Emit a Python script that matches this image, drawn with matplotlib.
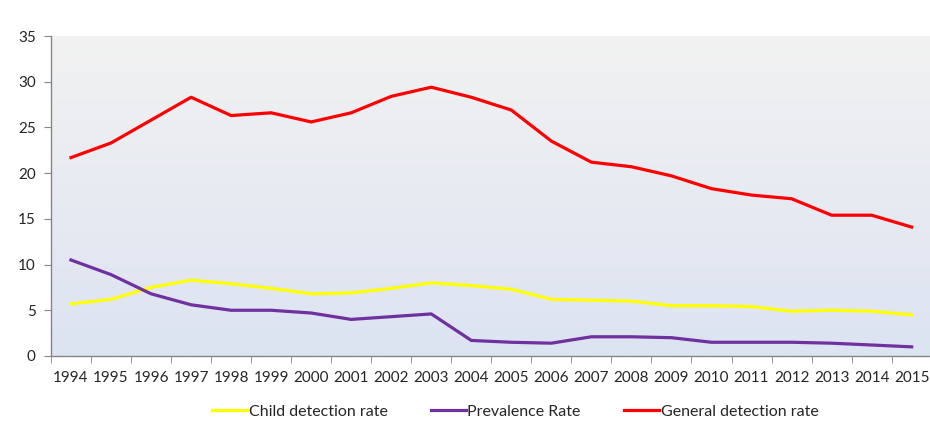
import numpy as np
import matplotlib
matplotlib.use('Agg')
import matplotlib.pyplot as plt
from matplotlib.ticker import FixedLocator

plt.rcParams['font.family'] = ['Lato', 'DejaVu Sans']

years = [str(y) for y in range(1994, 2016)]
child_rate = [5.7, 6.2, 7.5, 8.3, 7.9, 7.4, 6.8, 6.9, 7.4, 8.0, 7.7,
              7.3, 6.2, 6.1, 6.0, 5.5, 5.5, 5.4, 4.9, 5.0, 4.9, 4.5]
prevalence = [10.5, 8.9, 6.8, 5.6, 5.0, 5.0, 4.7, 4.0, 4.3, 4.6, 1.7,
              1.5, 1.4, 2.1, 2.1, 2.0, 1.5, 1.5, 1.5, 1.4, 1.2, 1.0]
general_rate = [21.7, 23.3, 25.8, 28.3, 26.3, 26.6, 25.6, 26.6, 28.4, 29.4, 28.3,
                26.9, 23.5, 21.2, 20.7, 19.7, 18.3, 17.6, 17.2, 15.4, 15.4, 14.1]

fig = plt.figure(figsize=(9.3, 4.37), dpi=100)
ax = fig.add_axes([0.0548, 0.1854, 0.947, 0.7322])

# gradient background, grey at top to pale blue at bottom
top = np.array([242, 242, 242]) / 255
bottom = np.array([220, 227, 241]) / 255
t = np.linspace(0, 1, 256)[:, None]
grad = (top * (1 - t) + bottom * t)[:, None, :]
ax.imshow(grad, extent=[0, 1, 0, 1], transform=ax.transAxes, aspect='auto', zorder=0)

x = np.arange(len(years))
ax.plot(x, child_rate, color='#ffff00', lw=2.3, label='Child detection rate', zorder=3)
ax.plot(x, prevalence, color='#7030a0', lw=2.3, label='Prevalence Rate', zorder=3)
ax.plot(x, general_rate, color='#ff0000', lw=2.3, label='General detection rate', zorder=3)

ax.set_xlim(-0.5, len(years) - 0.5)
ax.set_ylim(0, 35)
ax.set_yticks(range(0, 36, 5))
ax.set_xticks(x)
ax.set_xticklabels(years)
ax.xaxis.set_minor_locator(FixedLocator(np.arange(-0.5, len(years), 1)))

for s in ['top', 'right']:
    ax.spines[s].set_visible(False)
for s in ['left', 'bottom']:
    ax.spines[s].set_color('#868686')
    ax.spines[s].set_linewidth(1)

ax.tick_params(axis='x', which='major', length=0, pad=11, labelsize=11)
ax.tick_params(axis='x', which='minor', length=5, color='#868686', direction='out')
ax.tick_params(axis='y', length=5, color='#868686', labelsize=11, pad=6)
for lbl in ax.get_xticklabels() + ax.get_yticklabels():
    lbl.set_color('#262626')

ax.legend(loc='upper center', bbox_to_anchor=(0.527, -0.107), ncol=3, frameon=False,
          fontsize=11.5, handlelength=2.2, columnspacing=2.7, handletextpad=0.1,
          labelcolor='#262626')

fig.savefig('out.png', dpi=100)
